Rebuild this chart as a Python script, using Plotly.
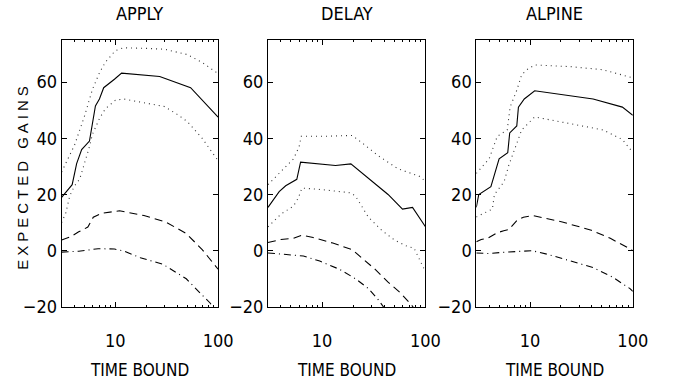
import math
import plotly.graph_objects as go

# ---- data: expected gains vs. time bound, three domains ----
PANEL_TITLES = ["APPLY", "DELAY", "ALPINE"]
X_TICKS = [10, 100]
Y_TICKS = [-20, 0, 20, 40, 60]
X_MINOR = [4, 5, 6, 7, 8, 9, 20, 30, 40, 50, 60, 70, 80, 90]

# APPLY
apply_mean_x = [3.0, 3.8, 4.2, 4.7, 5.6, 6.4, 7.0, 7.7, 9.8, 11.5, 27, 54, 100]
apply_mean_y = [19, 23.5, 31, 36, 39, 51.5, 54, 58, 61, 63.2, 62, 58, 47.5]
apply_hi_x = [3, 4, 5, 6, 7, 8, 10, 12, 20, 30, 50, 70, 100]
apply_hi_y = [28, 37.5, 47.8, 57.5, 63.3, 67.1, 71.2, 72.2, 72, 71.7, 69.8, 67, 63]
apply_lo_x = [3, 3.3, 3.6, 4, 4.5, 5, 5.5, 6, 7, 8, 10, 12, 20, 30, 40, 50, 70, 90, 100]
apply_lo_y = [10, 13.5, 19.5, 23, 25.5, 31, 36, 41.5, 47, 50.5, 53.5, 54, 52.5, 51.3, 48.5, 46, 40, 34.5, 32]
apply_dash_x = [3.0, 3.7, 4.4, 5.4, 6.1, 7.3, 11, 19, 31, 49, 70, 100]
apply_dash_y = [3.8, 5, 6.7, 8.4, 11.9, 13.3, 14.2, 12.5, 10.2, 6.1, 0.4, -6.6]
apply_dd_x = [3.0, 4.4, 6.8, 9.8, 12.2, 17.5, 29, 49, 70, 84, 92]
apply_dd_y = [-0.5, -0.2, 0.7, 0.6, -0.2, -2.5, -4.8, -10, -15.8, -18.7, -21.5]

# DELAY
delay_mean_x = [3.0, 3.85, 4.45, 5.7, 6.2, 13.5, 19, 43.5, 60, 75, 100]
delay_mean_y = [15.4, 21, 23.1, 25.4, 31.5, 30.3, 30.9, 20, 14.8, 15.4, 8.5]
delay_hi_x = [3.0, 4.0, 5.3, 6.0, 6.3, 10.2, 19.6, 24.3, 35, 54, 90, 100]
delay_hi_y = [23.5, 28, 32.7, 37, 40.7, 40.7, 41, 38.4, 33.8, 29.2, 26.3, 24.5]
delay_lo_x = [3.0, 4.0, 5.3, 5.9, 6.4, 10.2, 18.9, 21.1, 28.1, 37.6, 50.2, 67, 77.6, 100]
delay_lo_y = [8.5, 13, 15.9, 18.8, 22.3, 21.7, 20.6, 19.4, 11.9, 7.3, 3.8, 1.5, 0.9, -7.5]
delay_dash_x = [3.0, 4.0, 5.3, 6.4, 8.2, 12.7, 19.6, 24.3, 32.5, 43.5, 58, 75, 82]
delay_dash_y = [2.9, 4, 4.4, 5.5, 4.7, 2.7, 0.35, -2.5, -6.6, -11.2, -15.2, -19.8, -22]
delay_dd_x = [3.0, 5.0, 6.6, 9.5, 14.7, 21.1, 28.1, 35, 37.6, 42]
delay_dd_y = [-0.8, -1.4, -1.9, -3.7, -6.6, -10, -13.5, -17.5, -19.2, -21.5]

# ALPINE
alpine_mean_x = [3.0, 3.17, 4.16, 4.64, 5.0, 6.07, 6.34, 7.43, 7.71, 8.79, 11.1, 41.1, 79.2, 100]
alpine_mean_y = [15.4, 20, 22.8, 29.2, 32.7, 34.9, 41.9, 44.4, 51.1, 54, 56.9, 54, 51.1, 48.2]
alpine_hi_x = [3.0, 4.0, 4.8, 6.0, 6.4, 7.4, 8.3, 9.3, 11.1, 24.7, 51, 100]
alpine_hi_y = [27.5, 32.7, 40.7, 43, 51.1, 56.9, 62.6, 64.4, 66.1, 65.5, 64.4, 61.5]
alpine_lo_x = [3.0, 3.4, 4.3, 4.5, 5.6, 6.2, 7.2, 8.3, 11.1, 24.7, 51, 79, 100]
alpine_lo_y = [12, 13, 14.8, 20, 24.6, 30.3, 37.2, 43, 47.6, 45.3, 43, 39.6, 35]
alpine_dash_x = [3.0, 3.35, 3.86, 4.8, 5.55, 6.21, 7.44, 8.62, 10.76, 20.6, 39.5, 60.4, 91, 100]
alpine_dash_y = [3.2, 4, 4.4, 6.4, 7.1, 7.5, 10.7, 11.9, 12.5, 10.2, 7.3, 4.4, 0.9, 0]
alpine_dd_x = [3.0, 3.9, 6.2, 10.5, 15.2, 24.6, 41.1, 63.5, 94, 100]
alpine_dd_y = [-0.8, -1, -0.45, 0, -1.4, -3.7, -6, -9.4, -13.5, -14.5]

X_RANGE = [3, 100]
Y_RANGE = [-20, 75]

# ---- layout ----
W, H = 683, 388
NARROW = "DejaVu Sans Condensed, Liberation Sans Narrow, Arial Narrow, sans-serif"
PLAIN = "Liberation Sans, Arial, Helvetica, sans-serif"
panel_px = [(63, 223), (274, 435), (487, 647)]
plot_top, plot_bottom = 41, 315
y_dom = [1 - plot_bottom / H, 1 - plot_top / H]

styles = {
    "mean": dict(color="black", width=1.1, dash="solid"),
    "hi": dict(color="#333333", width=1.1, dash="1px,4px"),
    "lo": dict(color="#333333", width=1.1, dash="1px,4px"),
    "dash": dict(color="black", width=1.1, dash="8px,5px"),
    "dd": dict(color="black", width=1.1, dash="7px,4px,1px,4px"),
}

panels = [
    {"mean": (apply_mean_x, apply_mean_y), "hi": (apply_hi_x, apply_hi_y),
     "lo": (apply_lo_x, apply_lo_y), "dash": (apply_dash_x, apply_dash_y),
     "dd": (apply_dd_x, apply_dd_y)},
    {"mean": (delay_mean_x, delay_mean_y), "hi": (delay_hi_x, delay_hi_y),
     "lo": (delay_lo_x, delay_lo_y), "dash": (delay_dash_x, delay_dash_y),
     "dd": (delay_dd_x, delay_dd_y)},
    {"mean": (alpine_mean_x, alpine_mean_y), "hi": (alpine_hi_x, alpine_hi_y),
     "lo": (alpine_lo_x, alpine_lo_y), "dash": (alpine_dash_x, alpine_dash_y),
     "dd": (alpine_dd_x, alpine_dd_y)},
]

fig = go.Figure()
annotations = []
for i, (panel, (px0, px1), title) in enumerate(zip(panels, panel_px, PANEL_TITLES)):
    sfx = "" if i == 0 else str(i + 1)
    for key in ["hi", "lo", "dash", "dd", "mean"]:
        xs, ys = panel[key]
        fig.add_trace(go.Scatter(
            x=xs, y=ys, mode="lines", line=styles[key],
            xaxis="x" + sfx, yaxis="y" + sfx, showlegend=False, hoverinfo="skip",
        ))
    axis_font = dict(family=NARROW, size=18, color="black")
    fig.layout["xaxis" + sfx] = dict(
        type="log", range=[math.log10(X_RANGE[0]), math.log10(X_RANGE[1])],
        domain=[px0 / W, px1 / W], anchor="y" + sfx,
        showline=True, linecolor="black", linewidth=1, mirror="ticks",
        ticks="inside", ticklen=5, tickcolor="black", tickwidth=1,
        tickvals=X_TICKS, ticktext=[str(v) for v in X_TICKS],
        ticklabelstandoff=18,
        showgrid=False, zeroline=False, tickfont=axis_font,
        minor=dict(ticks="inside", ticklen=2, tickcolor="black",
                   tickmode="array", tickvals=X_MINOR, showgrid=False),
    )
    fig.layout["yaxis" + sfx] = dict(
        range=Y_RANGE, domain=y_dom, anchor="x" + sfx,
        showline=True, linecolor="black", linewidth=1, mirror="ticks",
        ticks="inside", ticklen=5, tickcolor="black", tickwidth=1,
        tickvals=Y_TICKS, showgrid=False, zeroline=False, tickfont=axis_font,
    )
    cx = (px0 + px1) / 2 / W
    annotations.append(dict(
        text=title, x=cx, y=1 - 14 / H, xref="paper", yref="paper",
        xanchor="center", yanchor="middle", showarrow=False,
        font=dict(family=NARROW, size=18, color="black"),
    ))
    annotations.append(dict(
        text="TIME BOUND", x=cx, y=1 - 380 / H, xref="paper", yref="paper",
        xanchor="center", yanchor="middle", showarrow=False,
        font=dict(family=NARROW, size=17, color="black"),
    ))

annotations.append(dict(
    text="EXPECTED GAINS", x=23 / W, y=1 - 180 / H, xref="paper", yref="paper",
    xanchor="center", yanchor="middle", showarrow=False, textangle=-90,
    font=dict(family=PLAIN, size=15, color="black"),
))

fig.update_layout(
    width=W, height=H, margin=dict(l=0, r=0, t=0, b=0),
    paper_bgcolor="white", plot_bgcolor="white",
    annotations=annotations,
)

# widen the spacing of the vertical axis label
spacing_js = """
var gd = document.getElementById('{plot_id}');
gd.querySelectorAll('.annotation-text').forEach(function (t) {
  if (t.textContent === 'EXPECTED GAINS') { t.style.letterSpacing = '4px'; }
});
"""
fig.write_html("out.html", post_script=spacing_js)
